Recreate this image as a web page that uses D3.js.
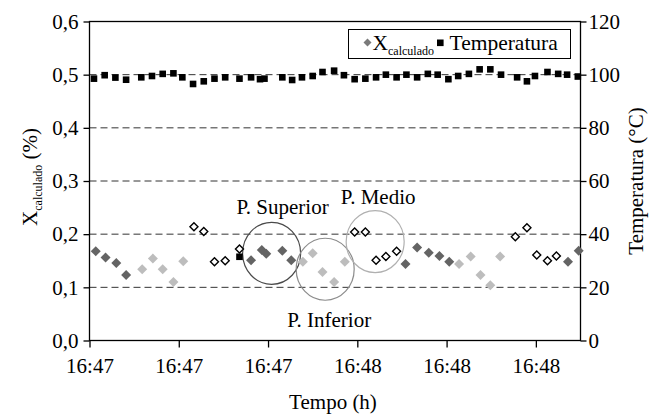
<!DOCTYPE html>
<html>
<head>
<meta charset="utf-8">
<script src="https://cdn.jsdelivr.net/npm/d3@7"></script>
<style>
  body { margin: 0; background: #fff; }
  svg text { font-family: "Liberation Serif", "Times New Roman", serif; fill: #000; }
</style>
</head>
<body>
<svg id="chart" width="654" height="414"></svg>
<script>
// time axis: seconds after 16:47:30
const tickSeconds = [0, 10, 20, 30, 40, 50];
const tickLabels  = ['16:47', '16:47', '16:47', '16:48', '16:48', '16:48'];

// temperature (°C), right axis
const tempTime = [0.5, 1.7, 2.9, 4.1, 5.8, 7.0, 8.2, 9.4, 10.4, 11.6, 12.8, 14.0, 15.2, 16.8,
  18.1, 19.1, 19.6, 21.6, 22.7, 23.8, 25.0, 26.1, 27.4, 28.5, 29.7, 30.9, 32.1, 33.2, 34.4,
  35.5, 36.7, 37.9, 39.0, 40.2, 41.3, 42.5, 43.7, 44.9, 46.1, 47.9, 49.0, 49.9, 51.3, 52.5,
  53.5, 54.7, 16.8];
const tempValue = [98.5, 99.8, 98.9, 98.1, 99.0, 99.5, 100.3, 100.5, 99.0, 96.5, 97.5, 98.5,
  99.0, 98.5, 99.0, 98.3, 98.5, 99.0, 98.0, 99.0, 99.5, 101.0, 101.5, 99.8, 98.3, 98.5, 99.0,
  100.0, 99.0, 100.0, 99.0, 100.3, 100.0, 98.3, 99.5, 100.3, 102.0, 102.0, 100.0, 99.0, 97.5,
  99.5, 101.0, 100.3, 100.0, 99.3, 31.5];

// X calculado (%), left axis; pos: S = superior, I = inferior, M = medio
const xTime = [0.7, 1.8, 3.0, 4.1, 5.9, 7.1, 8.2, 9.4, 10.5, 11.7, 12.8, 14.0, 15.2, 16.8,
  18.1, 19.3, 19.8, 21.6, 22.6, 23.9, 25.0, 26.1, 27.4, 28.6, 29.7, 30.9, 32.1, 33.2, 34.4,
  35.4, 36.7, 38.0, 39.2, 40.3, 41.4, 42.7, 43.8, 44.9, 46.0, 47.7, 49.0, 50.1, 51.3, 52.3,
  53.6, 54.8];
const xValue = [0.168, 0.156, 0.146, 0.123, 0.134, 0.154, 0.134, 0.110, 0.149, 0.214, 0.205,
  0.148, 0.150, 0.172, 0.151, 0.170, 0.163, 0.169, 0.151, 0.148, 0.164, 0.129, 0.110, 0.148,
  0.204, 0.204, 0.151, 0.158, 0.168, 0.144, 0.175, 0.165, 0.159, 0.148, 0.144, 0.158, 0.123,
  0.104, 0.158, 0.195, 0.212, 0.161, 0.150, 0.159, 0.148, 0.169];
const xPos = ['S', 'S', 'S', 'S', 'I', 'I', 'I', 'I', 'I', 'M', 'M', 'M', 'M', 'M',
  'S', 'S', 'S', 'S', 'S', 'I', 'I', 'I', 'I', 'I', 'M', 'M', 'M', 'M', 'M',
  'S', 'S', 'S', 'S', 'S', 'I', 'I', 'I', 'I', 'I', 'M', 'M', 'M', 'M', 'M', 'S', 'S'];

// circled groups: centre (time, X), label
const groupNames  = ['P. Superior', 'P. Inferior', 'P. Medio'];
const groupTime   = [20.4, 26.4, 32.0];
const groupValue  = [0.164, 0.134, 0.186];

const W = 654, H = 414;
const margin = { left: 89.5, right: 73.5, top: 21.5, bottom: 73.5 };
const innerW = W - margin.left - margin.right;
const innerH = H - margin.top - margin.bottom;
const FS = 21;

const svg = d3.select('#chart');
const g = svg.append('g').attr('transform', `translate(${margin.left},${margin.top})`);

const x  = d3.scaleLinear().domain([0, 55]).range([0, innerW]);
const yL = d3.scaleLinear().domain([0, 0.6]).range([innerH, 0]);
const yR = d3.scaleLinear().domain([0, 120]).range([innerH, 0]);

const colors = { S: '#646464', I: '#bdbdbd', M: '#fff' };

// dashed gridlines
g.selectAll('.grid')
  .data([0.1, 0.2, 0.3, 0.4, 0.5])
  .join('line')
  .attr('x1', 0).attr('x2', innerW)
  .attr('y1', d => yL(d)).attr('y2', d => yL(d))
  .attr('stroke', '#333').attr('stroke-width', 1)
  .attr('stroke-dasharray', '7,4');

// frame
g.append('rect')
  .attr('width', innerW).attr('height', innerH)
  .attr('fill', 'none').attr('stroke', '#000').attr('stroke-width', 1.3);

// axes
const fmtComma = d => d3.format('.1f')(d).replace('.', ',');

const axisL = g.append('g').call(d3.axisLeft(yL).ticks(6).tickSize(6).tickPadding(5).tickFormat(fmtComma));
const axisR = g.append('g').attr('transform', `translate(${innerW},0)`)
  .call(d3.axisRight(yR).ticks(6).tickSize(6).tickPadding(2));
const axisB = g.append('g').attr('transform', `translate(0,${innerH})`)
  .call(d3.axisBottom(x).tickValues(tickSeconds).tickSize(7).tickPadding(11)
    .tickFormat((d, i) => tickLabels[i]));

[axisL, axisR, axisB].forEach(a => {
  a.select('.domain').remove();
  a.selectAll('line').attr('stroke', '#000').attr('stroke-width', 1.3);
  a.selectAll('text').attr('font-size', FS).attr('font-family', '"Liberation Serif", serif');
});

// group circles
const circleStroke = ['#4a4a4a', '#8c8c8c', '#b0b0b0'];
g.selectAll('.grp')
  .data(groupNames)
  .join('ellipse')
  .attr('cx', (d, i) => x(groupTime[i]))
  .attr('cy', (d, i) => yL(groupValue[i]))
  .attr('rx', 29).attr('ry', 31)
  .attr('fill', 'none')
  .attr('stroke', (d, i) => circleStroke[i])
  .attr('stroke-width', 1.2);

// group labels
const labelDx = [11, 4, 3];
const labelDy = [-39, 58, -38];
g.selectAll('.glabel')
  .data(groupNames)
  .join('text')
  .attr('x', (d, i) => x(groupTime[i]) + labelDx[i])
  .attr('y', (d, i) => yL(groupValue[i]) + labelDy[i])
  .attr('text-anchor', 'middle')
  .attr('font-size', FS)
  .text(d => d);

// diamond marker path
const diamond = r => `M0,${-r}L${r},0L0,${r}L${-r},0Z`;

// X calculado points
g.selectAll('.xpt')
  .data(xValue)
  .join('path')
  .attr('d', (d, i) => diamond(xPos[i] === 'M' ? 4 : 5))
  .attr('transform', (d, i) => `translate(${x(xTime[i])},${yL(d)})`)
  .attr('fill', (d, i) => colors[xPos[i]])
  .attr('stroke', (d, i) => xPos[i] === 'M' ? '#000' : 'none')
  .attr('stroke-width', 1.4);

// temperature points
g.selectAll('.tpt')
  .data(tempValue)
  .join('rect')
  .attr('x', (d, i) => x(tempTime[i]) - 3.3)
  .attr('y', d => yR(d) - 3.3)
  .attr('width', 6.6).attr('height', 6.6)
  .attr('fill', '#000');

// legend
const leg = g.append('g').attr('transform', `translate(${348.5 - margin.left},${29.5 - margin.top})`);
leg.append('rect').attr('width', 222).attr('height', 29)
  .attr('fill', '#fff').attr('stroke', '#000').attr('stroke-width', 1);
leg.append('path').attr('d', diamond(4)).attr('transform', 'translate(19,13)').attr('fill', '#7a7a7a');
const lt = leg.append('text').attr('x', 24).attr('y', 20).attr('font-size', 21.5);
lt.append('tspan').text('X');
lt.append('tspan').attr('font-size', 12).attr('dy', 5).text('calculado');
leg.append('rect').attr('x', 88.5).attr('y', 10).attr('width', 6.6).attr('height', 6.6).attr('fill', '#000');
leg.append('text').attr('x', 101).attr('y', 20).attr('font-size', 21.5).text('Temperatura');

// axis titles
svg.append('text')
  .attr('x', margin.left + innerW / 2 - 2).attr('y', 409)
  .attr('text-anchor', 'middle').attr('font-size', FS)
  .text('Tempo (h)');

const tl = svg.append('text')
  .attr('transform', `translate(37,${margin.top + innerH / 2 - 4}) rotate(-90)`)
  .attr('text-anchor', 'middle').attr('font-size', FS);
tl.append('tspan').text('X');
tl.append('tspan').attr('font-size', 12).attr('dy', 5).text('calculado');
tl.append('tspan').attr('dy', -5).text(' (%)');

svg.append('text')
  .attr('transform', `translate(643,${margin.top + innerH / 2}) rotate(-90)`)
  .attr('text-anchor', 'middle').attr('font-size', FS)
  .text('Temperatura (°C)');
</script>
</body>
</html>
